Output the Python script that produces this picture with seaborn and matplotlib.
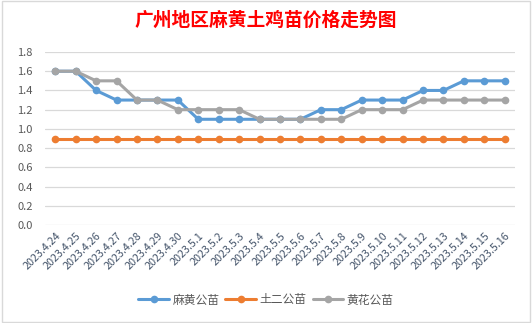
import matplotlib
matplotlib.use("Agg")
import matplotlib.pyplot as plt
import seaborn as sns
import pandas as pd
from matplotlib.patches import Rectangle

dates = ["2023.4.24", "2023.4.25", "2023.4.26", "2023.4.27", "2023.4.28", "2023.4.29",
         "2023.4.30", "2023.5.1", "2023.5.2", "2023.5.3", "2023.5.4", "2023.5.5",
         "2023.5.6", "2023.5.7", "2023.5.8", "2023.5.9", "2023.5.10", "2023.5.11",
         "2023.5.12", "2023.5.13", "2023.5.14", "2023.5.15", "2023.5.16"]
mahuang = [1.6, 1.6, 1.4, 1.3, 1.3, 1.3, 1.3, 1.1, 1.1, 1.1, 1.1, 1.1, 1.1, 1.2, 1.2,
           1.3, 1.3, 1.3, 1.4, 1.4, 1.5, 1.5, 1.5]
tuer = [0.9] * 23
huanghua = [1.6, 1.6, 1.5, 1.5, 1.3, 1.3, 1.2, 1.2, 1.2, 1.2, 1.1, 1.1, 1.1, 1.1, 1.1,
            1.2, 1.2, 1.2, 1.3, 1.3, 1.3, 1.3, 1.3]
series_names = ["麻黄公苗", "土二公苗", "黄花公苗"]
colors = ["#5B9BD5", "#ED7D31", "#A5A5A5"]
title = "广州地区麻黄土鸡苗价格走势图"

rows = []
for name, vals in zip(series_names, [mahuang, tuer, huanghua]):
    for i, (d, v) in enumerate(zip(dates, vals)):
        rows.append({"idx": i, "date": d, "series": name, "value": v})
df = pd.DataFrame(rows)

sns.set_theme(style="white")
plt.rcParams['font.family'] = ['Noto Sans CJK SC', 'DejaVu Sans']

fig = plt.figure(figsize=(5.32, 3.23), dpi=100)
ax = fig.add_axes([45/532, 1-225/323, 470/532, (225-52)/323])

sns.lineplot(data=df, x="idx", y="value", hue="series", hue_order=series_names,
             palette=colors, marker="o", markersize=5.5, markeredgewidth=0,
             linewidth=2.2, ax=ax, legend=False)

ax.set_xlim(-0.5, len(dates) - 0.5)
ax.set_ylim(0, 1.8)
ax.set_yticks([i * 0.2 for i in range(10)])
ax.set_yticklabels([f"{i*0.2:.1f}" for i in range(10)], fontsize=8, color="#595959")
ax.set_xticks(range(len(dates)))
ax.set_xticklabels(dates, rotation=45, ha="right", rotation_mode="anchor",
                   fontsize=7.8, color="#44546A")
ax.tick_params(axis="both", length=0, pad=4)
ax.tick_params(axis="y", pad=9)
ax.grid(axis="y", color="#D9D9D9", linewidth=0.9)
ax.set_axisbelow(True)
for s in ax.spines.values():
    s.set_visible(False)
ax.set_xlabel("")
ax.set_ylabel("")

fig.text(266/532, 1-20/323, title, ha="center", va="center", fontsize=13.5,
         fontweight="bold", color="#FF0000")

handles = [plt.Line2D([], [], color=c, marker="o", markersize=5.5, markeredgewidth=0,
                      linewidth=2.2) for c in colors]
fig.legend(handles, series_names, loc="center", bbox_to_anchor=(266/532, 1-300/323),
           ncol=3, frameon=False, fontsize=8.5, handlelength=2.6, columnspacing=0.5,
           handletextpad=0.3, labelcolor="#595959")

fig.patches.append(Rectangle((0.004, 0.004), 0.992, 0.992, transform=fig.transFigure,
                             fill=False, edgecolor="#D9D9D9", linewidth=1))

fig.savefig("out.png", dpi=100)
